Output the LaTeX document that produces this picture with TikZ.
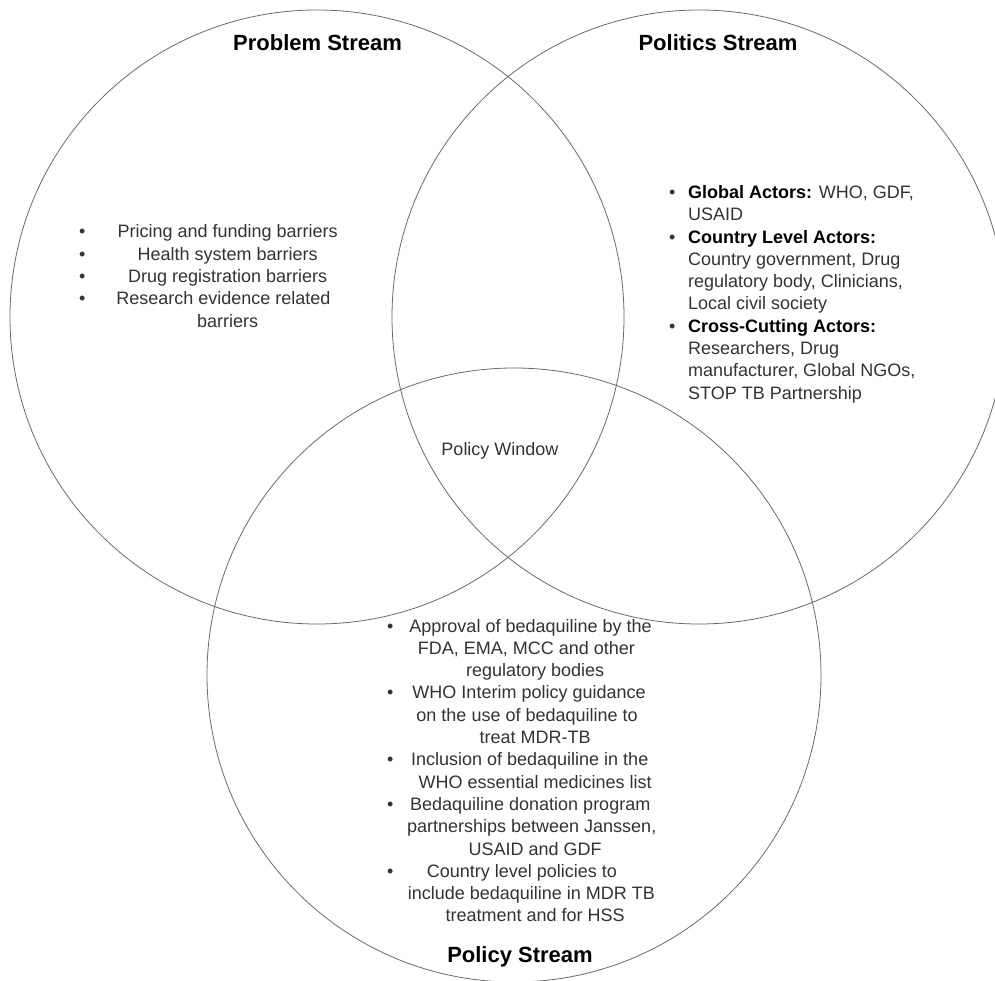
\documentclass[tikz,border=0pt]{standalone}
\usepackage{fontspec}
\setmainfont{Liberation Sans}
\usepackage{array}
\newcommand{\bt}[1]{\leavevmode{\color{black}\bfseries #1}}
\begin{document}
\begin{tikzpicture}[x=1pt,y=-1pt,
  venn/.style={circle, draw=black!58, line width=0.8pt, minimum size=614pt, inner sep=0pt},
  title/.style={font=\fontsize{22}{26}\selectfont\bfseries, text=black, inner sep=0pt, anchor=base},
  body/.style={font=\fontsize{18}{22.3}\selectfont, text=black!80, inner sep=0pt, anchor=base west},
]
\useasboundingbox[fill=white] (0,0) rectangle (995,981);
\node[venn] (problem) at (317,317) {};
\node[venn] (politics) at (699,317) {};
\node[venn] (policy) at (514,675) {};

\node[title] (tprob) at (317.5,51) {Problem Stream};
\node[title] (tpol) at (718,51) {Politics Stream};
\node[title] (tpolicy) at (520,962) {Policy Stream};

\node[font=\fontsize{18}{22}\selectfont, text=black!80, inner sep=0pt, anchor=base] (window) at (500,455) {Policy Window};

\node[body] (problist) at (79,238) {\begin{tabular}[t]{@{}p{28.5pt}@{}>{\centering\arraybackslash}p{240pt}@{}}
\textbullet & Pricing and funding barriers\\
\textbullet & Health system barriers\\
\textbullet & Drug registration barriers\\
\textbullet & Research evidence related\newline barriers
\end{tabular}};

\node[body] (pollist) at (669,198.5) {\begin{tabular}[t]{@{}p{19pt}@{}>{\raggedright\arraybackslash}p{250pt}@{}}
\textbullet & \bt{Global Actors:} WHO, GDF,\newline USAID\\
\textbullet & \bt{Country Level Actors:}\newline Country government, Drug\newline regulatory body, Clinicians,\newline Local civil society\\
\textbullet & \bt{Cross-Cutting Actors:}\newline Researchers, Drug\newline manufacturer, Global NGOs,\newline STOP TB Partnership
\end{tabular}};

\node[body] (policylist) at (387,632) {\begin{tabular}[t]{@{}p{13pt}@{}>{\centering\arraybackslash}p{270pt}@{}}
\textbullet & Approval of bedaquiline by the\newline FDA, EMA, MCC and other\newline regulatory bodies\\
\textbullet & WHO Interim policy guidance\newline on the use of bedaquiline to\newline treat MDR-TB\\
\textbullet & Inclusion of bedaquiline in the\newline WHO essential medicines list\\
\textbullet & Bedaquiline donation program\newline partnerships between Janssen,\newline USAID and GDF\\
\textbullet & Country level policies to\newline include bedaquiline in MDR TB\newline treatment and for HSS
\end{tabular}};
\end{tikzpicture}
\end{document}
